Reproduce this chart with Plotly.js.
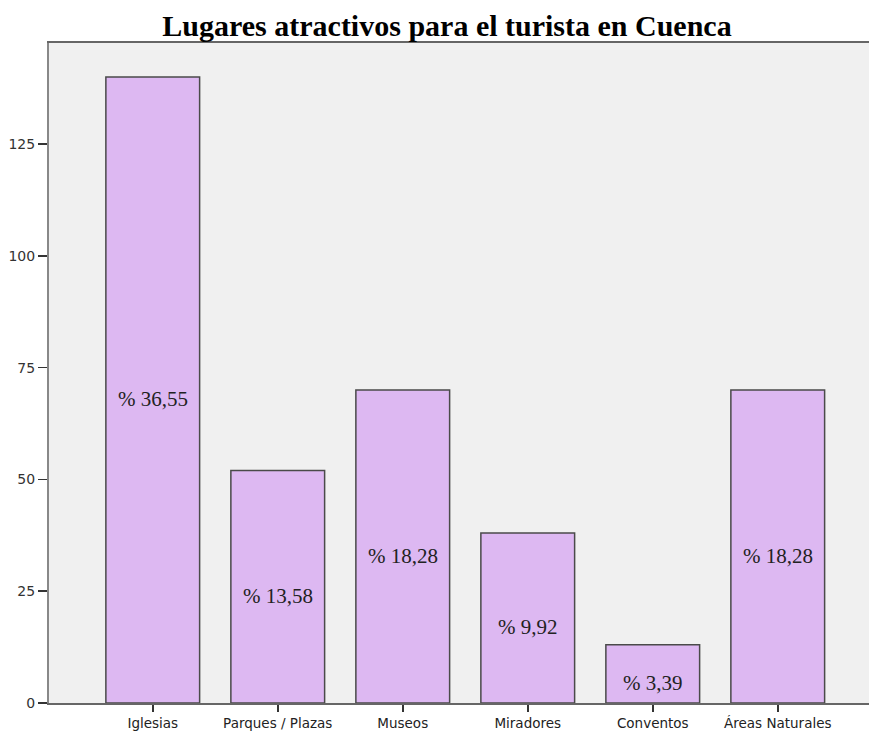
<!DOCTYPE html>
<html><head><meta charset="utf-8">
<script src="https://cdn.plot.ly/plotly-3.0.1.min.js"></script>
<style>html,body{margin:0;padding:0;background:#fff}#chart{width:869px;height:731px}</style>
</head><body><div id="chart"></div>
<script>
const categories = ["Iglesias", "Parques / Plazas", "Museos", "Miradores", "Conventos", "Áreas Naturales"];
const counts = [140, 52, 70, 38, 13, 70];
const percentLabels = ["% 36,55", "% 13,58", "% 18,28", "% 9,92", "% 3,39", "% 18,28"];
const yTicks = [0, 25, 50, 75, 100, 125];

const trace = {
  type: "bar",
  x: categories,
  y: counts,
  marker: {color: "#ddb8f2", line: {color: "#4a4a4a", width: 1.5}},
  hoverinfo: "skip"
};

const annotations = categories.map((c, i) => ({
  x: c, y: counts[i] / 2, xref: "x", yref: "y",
  text: percentLabels[i], showarrow: false,
  yshift: -9,
  font: {family: "Liberation Serif, Times New Roman, serif", size: 21, color: "#222"}
}));

const layout = {
  width: 869, height: 731,
  margin: {l: 49, r: 0, t: 43, b: 28},
  paper_bgcolor: "#ffffff",
  plot_bgcolor: "#f0f0f0",
  bargap: 0.25,
  showlegend: false,
  annotations: annotations,
  title: {
    text: "<b>Lugares atractivos para el turista en Cuenca</b>",
    font: {family: "Liberation Serif, Times New Roman, serif", size: 30, color: "#000"},
    x: 447 / 869, xanchor: "center", xref: "container",
    yref: "container", y: 1 - 25 / 731, yanchor: "middle"
  },
  xaxis: {
    range: [-0.83, 5.73],
    showline: true, linecolor: "#666", linewidth: 2, mirror: true,
    ticks: "outside", ticklen: 7, tickcolor: "#333", tickwidth: 1.5,
    showgrid: false, zeroline: false,
    tickfont: {family: "DejaVu Sans, sans-serif", size: 13.5, color: "#222"},
    fixedrange: true
  },
  yaxis: {
    range: [0, 147.6],
    tickvals: yTicks,
    ticktext: yTicks.map(String),
    showline: true, linecolor: "#888", linewidth: 2,
    ticks: "outside", ticklen: 9, tickcolor: "#333", tickwidth: 1.5,
    showgrid: false, zeroline: false,
    tickfont: {family: "DejaVu Sans, sans-serif", size: 14, color: "#333"},
    fixedrange: true
  }
};

Plotly.newPlot("chart", [trace], layout, {displayModeBar: false, staticPlot: true});
</script></body></html>
